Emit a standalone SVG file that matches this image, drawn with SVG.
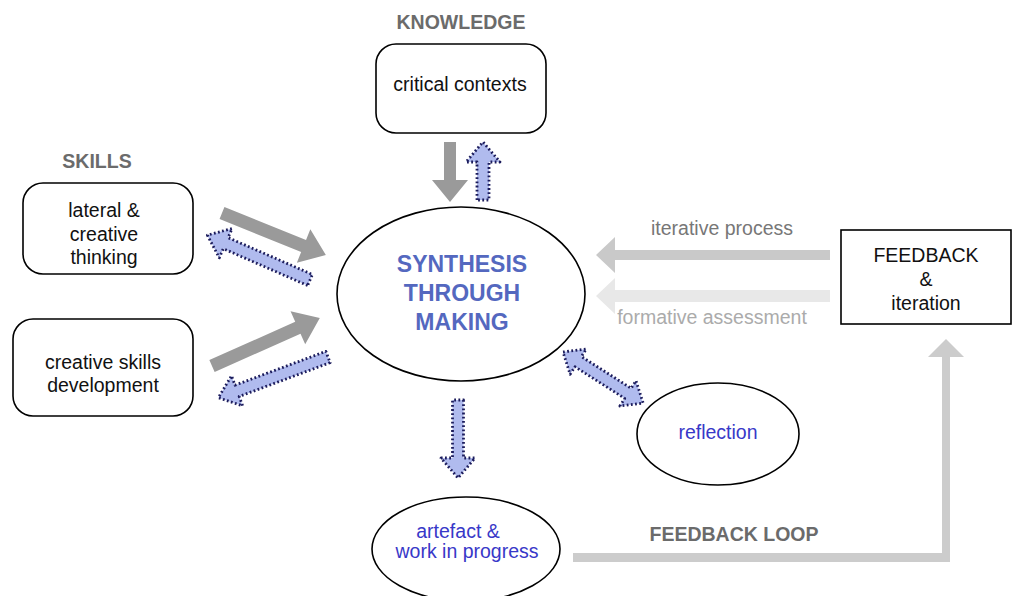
<svg xmlns="http://www.w3.org/2000/svg" width="1014" height="596" viewBox="0 0 1014 596">
<style>
text{font-family:"Liberation Sans",Arial,sans-serif;font-size:19.5px;text-anchor:middle}
.lbl{font-weight:bold;fill:#6b6b6b}
.blk{fill:#111}
.blue{fill:#3838c8}
.syn{font-weight:bold;font-size:23px;fill:#5468bf}
.box{fill:#fff;stroke:#000;stroke-width:1.6}
.ga{fill:#9a9a9a}
.ba{fill:#b0bbee;stroke:#1c1c5c;stroke-width:2.8;stroke-dasharray:1.8 2.4;stroke-linejoin:round}
</style>
<rect width="1014" height="596" fill="#fff"/>
<g id="connectors">
<polygon class="ga" transform="translate(450,142) rotate(90)" points="0,-6 38,-6 38,-18 60,0 38,18 38,6 0,6"/>
<polygon class="ba" transform="translate(483,200) rotate(-90)" points="0,-6 38,-6 38,-17 58,0 38,17 38,6 0,6"/>
<polygon class="ga" transform="translate(222,213) rotate(22)" points="0,-6.5 88,-6.5 88,-18 112,0 88,18 88,6.5 0,6.5"/>
<polygon class="ba" transform="translate(310,280) rotate(203.6)" points="0,-6 92,-6 92,-16 112,0 92,16 92,6 0,6"/>
<polygon class="ga" transform="translate(212,366) rotate(-24)" points="0,-6.5 94,-6.5 94,-18 118,0 94,18 94,6.5 0,6.5"/>
<polygon class="ba" transform="translate(328,357) rotate(159.6)" points="0,-6 97,-6 97,-16 117,0 97,16 97,6 0,6"/>
<polygon class="ba" transform="translate(458,400) rotate(90)" points="0,-5.5 58,-5.5 58,-17 78,0 58,17 58,5.5 0,5.5"/>
<polygon class="ba" transform="translate(563,352) rotate(32.5)" points="0,0 18,-15 18,-6 77,-6 77,-15 95,0 77,15 77,6 18,6 18,15"/>
<polygon fill="#c9c9c9" points="830,250 615,250 615,237 596,255 615,273 615,260 830,260"/>
<polygon fill="#e8e8e8" points="830,290 615,290 615,278 596,296 615,314 615,302 830,302"/>
<polygon fill="#cccccc" points="573,553 942,553 942,357 928,357 946,339 964,357 950,357 950,562 573,562"/>
<text x="722" y="235" fill="#777">iterative process</text>
<text x="712" y="324" fill="#ababab">formative assessment</text>
<text class="lbl" x="734" y="541">FEEDBACK LOOP</text>
</g>
<g id="knowledge">
<text class="lbl" x="461" y="29">KNOWLEDGE</text>
<rect class="box" x="376" y="44" width="170" height="89" rx="20"/>
<text class="blk" x="460" y="91">critical contexts</text>
</g>
<g id="skills">
<text class="lbl" x="97" y="168">SKILLS</text>
</g>
<g id="lateral">
<rect class="box" x="23" y="183" width="170" height="91" rx="20"/>
<text class="blk" x="104" y="217">lateral &amp;</text>
<text class="blk" x="104" y="241">creative</text>
<text class="blk" x="104" y="264">thinking</text>
</g>
<g id="creative">
<rect class="box" x="13" y="319" width="180" height="97" rx="20"/>
<text class="blk" x="103" y="369">creative skills</text>
<text class="blk" x="103" y="392">development</text>
</g>
<g id="synthesis">
<ellipse class="box" cx="461" cy="294" rx="124" ry="87"/>
<text class="syn" x="462" y="272">SYNTHESIS</text>
<text class="syn" x="462" y="301">THROUGH</text>
<text class="syn" x="462" y="330">MAKING</text>
</g>
<g id="feedback">
<rect class="box" x="841" y="230" width="170" height="94"/>
<text class="blk" x="926" y="262">FEEDBACK</text>
<text class="blk" x="926" y="286">&amp;</text>
<text class="blk" x="926" y="310">iteration</text>
</g>
<g id="reflection">
<ellipse class="box" cx="718" cy="434" rx="81" ry="51"/>
<text class="blue" x="718" y="439">reflection</text>
</g>
<g id="artefact">
<ellipse class="box" cx="466" cy="549" rx="94" ry="52"/>
<text class="blue" x="458" y="538">artefact &amp;</text>
<text class="blue" x="467" y="558">work in progress</text>
</g>
</svg>
